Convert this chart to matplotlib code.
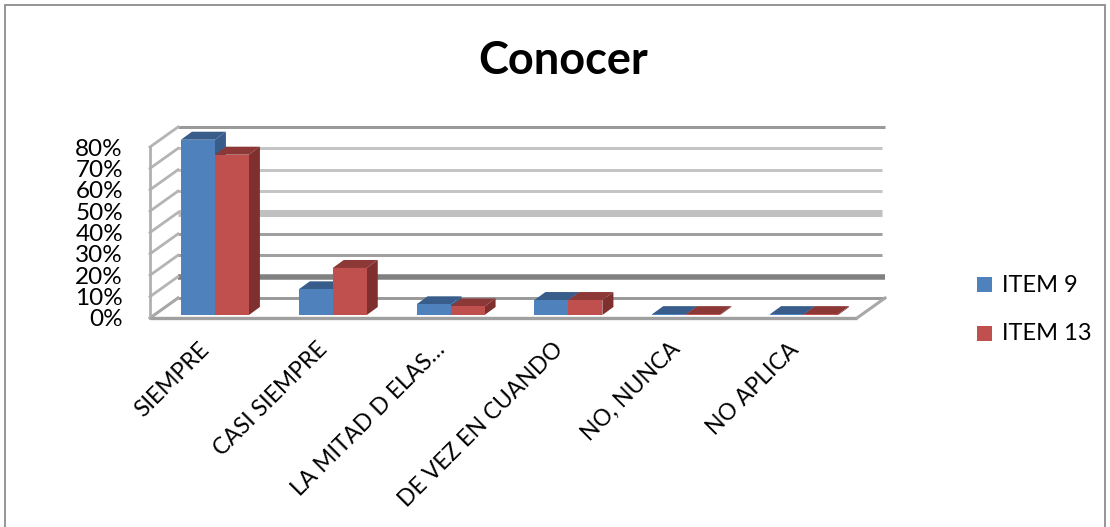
import matplotlib
matplotlib.use("Agg")
import matplotlib.pyplot as plt
from matplotlib.patches import Rectangle

categories = ["SIEMPRE", "CASI SIEMPRE", "LA MITAD D ELAS…", "DE VEZ EN CUANDO", "NO, NUNCA", "NO APLICA"]
item9 = [82, 12, 5, 7, 0.4, 0.4]
item13 = [75, 22, 4, 7, 0.4, 0.4]
series_names = ["ITEM 9", "ITEM 13"]
y_ticks = [0, 10, 20, 30, 40, 50, 60, 70, 80]
title = "Conocer"

W, H = 1110, 527
L, R, B, T = 150, 857, 318, 147  # front plane, pixels
plt.rcParams["font.family"] = ["Lato", "DejaVu Sans"]
fig = plt.figure(figsize=(W / 100, H / 100), dpi=100, facecolor="white")
ax = fig.add_axes([L / W, 1 - B / H, (R - L) / W, (B - T) / H])
ax.set_xlim(-0.5, 5.5)
ax.set_ylim(0, 80)
ax.axis("off")
px = 6 / (R - L)          # data units per pixel, x
py = 80 / (B - T)         # data units per pixel, y
def X(p): return p * px
def Y(p): return p * py

# Chart border
fig.add_artist(Rectangle((5 / W, -0.02), (W - 10) / W, 1.02 - 5 / H, transform=fig.transFigure,
                         fill=False, ec="#8c8c8c", lw=1.3))

# Walls and gridlines
DX, DY = 28, 20
grid_style = {0: ("#9a9a9a", 3), 10: ("#808080", 5.5), 20: ("#a0a0a0", 3), 30: ("#a0a0a0", 3),
              40: ("#c0c0c0", 7), 50: ("#c4c4c4", 3), 60: ("#c4c4c4", 3), 70: ("#c4c4c4", 3), 80: ("#9a9a9a", 3)}
for v in y_ticks:
    c, w = grid_style[v]
    end = 5.5 + X(DX) if v in (0, 10, 80) else 5.5 + X(DX - 3)
    ax.plot([-0.5 + X(DX), end], [v + Y(DY)] * 2, color=c, lw=w * 0.72, clip_on=False, solid_capstyle="butt")
    ax.plot([-0.5, -0.5 + X(DX)], [v, v + Y(DY)], color="#b4b4b4", lw=2.0, clip_on=False)
ax.plot([-0.5, -0.5 + X(DX)], [0, Y(DY)], color="#a8a8a8", lw=2, clip_on=False)
ax.plot([-0.5, -0.5], [0, 80], color="#b0b0b0", lw=2, clip_on=False)
ax.plot([-0.5, 5.5], [0, 0], color="#a0a0a0", lw=2.4, clip_on=False, solid_capstyle="butt")
ax.plot([5.5, 5.5 + X(DX)], [0, Y(DY)], color="#a8a8a8", lw=2.2, clip_on=False)

# Bars
bw = X(34)
dx, dy = X(11), Y(8)
ox, oy = X(6), Y(3)
def bar3d(xc, v, front, top, side):
    x0, x1 = xc, xc + bw
    b = oy
    t = oy + v
    ax.fill([x0, x1, x1 + dx, x0 + dx], [t, t, t + dy, t + dy], color=top, lw=0, clip_on=False, zorder=3)
    ax.fill([x1, x1 + dx, x1 + dx, x1], [b, b + dy, t + dy, t], color=side, lw=0, clip_on=False, zorder=3)
    ax.fill([x0, x1, x1, x0], [b, b, t, t], color=front, lw=0, clip_on=False, zorder=3)

for i, (a, b) in enumerate(zip(item9, item13)):
    bar3d(i + ox - bw, a, "#4f81bd", "#385d8a", "#385d8a")
    bar3d(i + ox, b, "#c0504d", "#8c3836", "#7f2f2d")

# Y tick labels
for v in y_ticks:
    ax.annotate(f"{v}%", xy=(-0.5, v), xytext=(-27, -2), textcoords="offset pixels", ha="right", va="center",
                fontsize=17.5, color="black", annotation_clip=False)

# Category labels
for i, c in enumerate(categories):
    ax.annotate(c, xy=(i, 0), xytext=(-3, -28), textcoords="offset pixels", rotation=45,
                rotation_mode="anchor", ha="right", va="center", fontsize=16.5, color="black",
                annotation_clip=False)

# Title
fig.text(563 / W, 1 - 61 / H, title, ha="center", va="center", fontsize=32.5, fontweight="bold", color="black")

# Legend
for name, color, y, ty in zip(series_names, ["#4f81bd", "#c0504d"], [284, 333], [286, 334]):
    fig.add_artist(Rectangle((977 / W, 1 - (y + 8) / H), 15 / W, 15 / H, transform=fig.transFigure,
                             fc=color, ec="none"))
    fig.text(1002 / W, 1 - ty / H, name, ha="left", va="center", fontsize=17, color="black")

fig.savefig("out.png", dpi=100, facecolor="white")
